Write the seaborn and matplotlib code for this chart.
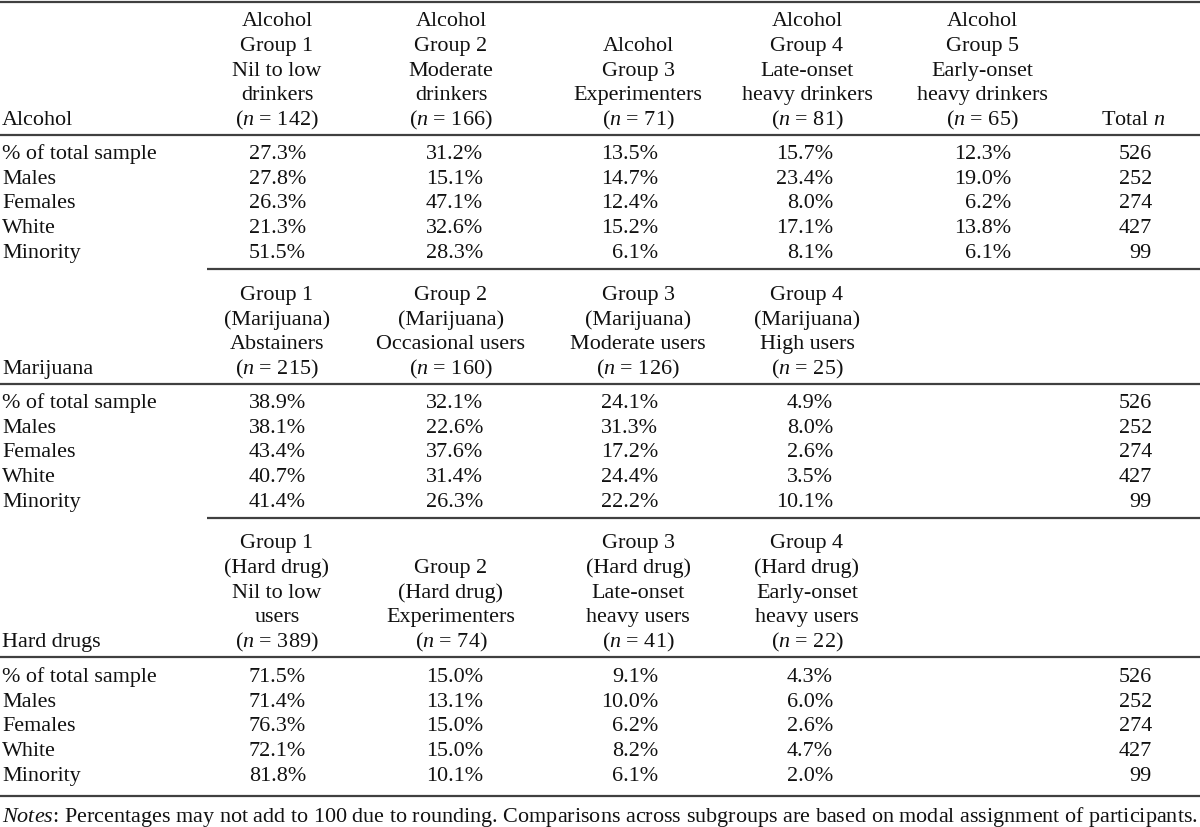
import matplotlib
matplotlib.use("Agg")
import matplotlib.pyplot as plt
import seaborn as sns

# ================================
# Table data
# ================================
row_labels = ["% of total sample", "Males", "Females", "White", "Minority"]
total_n = [526, 252, 274, 427, 99]

alc_headers = [
    ["Alcohol", "Group 1", "Nil to low", "drinkers", "($n$ = 142)"],
    ["Alcohol", "Group 2", "Moderate", "drinkers", "($n$ = 166)"],
    ["Alcohol", "Group 3", "Experimenters", "($n$ = 71)"],
    ["Alcohol", "Group 4", "Late-onset", "heavy drinkers", "($n$ = 81)"],
    ["Alcohol", "Group 5", "Early-onset", "heavy drinkers", "($n$ = 65)"],
]
alc_values = [
    ["27.3%", "31.2%", "13.5%", "15.7%", "12.3%"],
    ["27.8%", "15.1%", "14.7%", "23.4%", "19.0%"],
    ["26.3%", "47.1%", "12.4%", "8.0%", "6.2%"],
    ["21.3%", "32.6%", "15.2%", "17.1%", "13.8%"],
    ["51.5%", "28.3%", "6.1%", "8.1%", "6.1%"],
]

mar_headers = [
    ["Group 1", "(Marijuana)", "Abstainers", "($n$ = 215)"],
    ["Group 2", "(Marijuana)", "Occasional users", "($n$ = 160)"],
    ["Group 3", "(Marijuana)", "Moderate users", "($n$ = 126)"],
    ["Group 4", "(Marijuana)", "High users", "($n$ = 25)"],
]
mar_values = [
    ["38.9%", "32.1%", "24.1%", "4.9%"],
    ["38.1%", "22.6%", "31.3%", "8.0%"],
    ["43.4%", "37.6%", "17.2%", "2.6%"],
    ["40.7%", "31.4%", "24.4%", "3.5%"],
    ["41.4%", "26.3%", "22.2%", "10.1%"],
]

hard_headers = [
    ["Group 1", "(Hard drug)", "Nil to low", "users", "($n$ = 389)"],
    ["Group 2", "(Hard drug)", "Experimenters", "($n$ = 74)"],
    ["Group 3", "(Hard drug)", "Late-onset", "heavy users", "($n$ = 41)"],
    ["Group 4", "(Hard drug)", "Early-onset", "heavy users", "($n$ = 22)"],
]
hard_values = [
    ["71.5%", "15.0%", "9.1%", "4.3%"],
    ["71.4%", "13.1%", "10.0%", "6.0%"],
    ["76.3%", "15.0%", "6.2%", "2.6%"],
    ["72.1%", "15.0%", "8.2%", "4.7%"],
    ["81.8%", "10.1%", "6.1%", "2.0%"],
]

notes = "$Notes$: Percentages may not add to 100 due to rounding. Comparisons across subgroups are based on modal assignment of participants."

# ================================
# Style
# ================================
sns.set_theme(style="white")
plt.rcParams["font.family"] = ["Liberation Serif", "DejaVu Serif"]
plt.rcParams["mathtext.fontset"] = "custom"
plt.rcParams["mathtext.rm"] = "Liberation Serif"
plt.rcParams["mathtext.it"] = "Liberation Serif:italic"

FS = 15.9
LINE = 24.7
RULE_C = "#404040"
head_x = [277, 451, 638, 807, 982]
val_x = [306, 483, 658, 833, 1011]
total_x = 1152

fig = plt.figure(figsize=(12, 8.27), dpi=100)
ax = fig.add_axes([0, 0, 1, 1])
ax.set_xlim(0, 1200)
ax.set_ylim(827, 0)
ax.axis("off")


def txt(x, y, s, ha="left"):
    ax.text(x, y, s, ha=ha, va="baseline", fontsize=FS, color="#111111")


def section(title, headers, values, head_base, data_base, show_total_head):
    txt(2, head_base, title)
    for i, lines in enumerate(headers):
        for k, line in enumerate(reversed(lines)):
            txt(head_x[i], head_base - k * LINE, line, ha="center")
    if show_total_head:
        txt(1165, head_base, "Total $n$", ha="right")
    for r, lab in enumerate(row_labels):
        y = data_base + r * LINE
        txt(2, y, lab)
        for c, v in enumerate(values[r]):
            txt(val_x[c], y, v, ha="right")
        txt(total_x, y, str(total_n[r]), ha="right")


section("Alcohol", alc_headers, alc_values, 125, 159, True)
section("Marijuana", mar_headers, mar_values, 374, 408, False)
section("Hard drugs", hard_headers, hard_values, 647, 682, False)

# rules
for y in [2, 135, 384, 657, 796]:
    ax.plot([0, 1200], [y, y], color=RULE_C, lw=1.6, solid_capstyle="butt")
for y in [269, 518]:
    ax.plot([207, 1200], [y, y], color=RULE_C, lw=1.6, solid_capstyle="butt")

txt(2, 822, notes)

fig.savefig("out.png", dpi=100)
